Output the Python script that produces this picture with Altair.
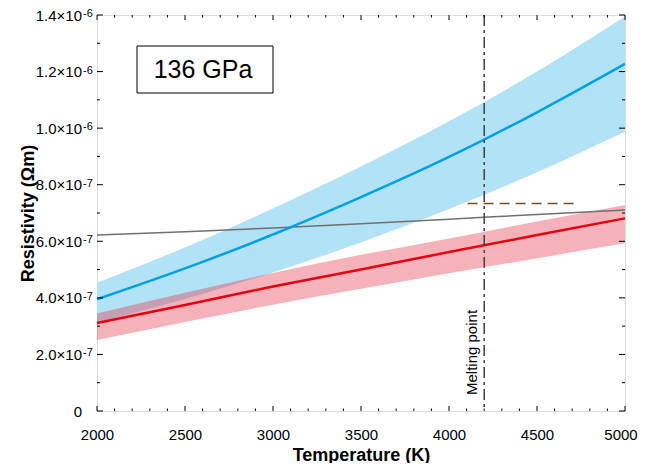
import altair as alt
import pandas as pd

# ---- data (resistivity in units of 1e-6 Ohm m) ----
temperature = [2000, 2500, 3000, 3500, 4000, 4500, 5000]
blue_mid = [0.395, 0.504, 0.624, 0.756, 0.898, 1.056, 1.227]
blue_hi = [0.453, 0.578, 0.716, 0.864, 1.024, 1.200, 1.395]
blue_lo = [0.313, 0.396, 0.490, 0.596, 0.714, 0.844, 0.987]
red_mid = [0.311, 0.375, 0.440, 0.500, 0.562, 0.622, 0.681]
red_hi = [0.345, 0.418, 0.488, 0.552, 0.610, 0.670, 0.728]
red_lo = [0.251, 0.315, 0.376, 0.432, 0.487, 0.540, 0.593]
grey_line = [0.622, 0.634, 0.647, 0.662, 0.678, 0.695, 0.711]

melting_point = [4200]
melting_label = ["Melting point"]
dashed_x = [4106]
dashed_x2 = [4735]
dashed_y = [0.734]
pressure_label = ["136 GPa"]

x_major = [2000, 2500, 3000, 3500, 4000, 4500, 5000]
y_major = [0, 0.2, 0.4, 0.6, 0.8, 1.0, 1.2, 1.4]
y_mantissa = ["0", "2.0×10", "4.0×10", "6.0×10", "8.0×10", "1.0×10", "1.2×10", "1.4×10"]
y_exponent = ["", "-7", "-7", "-7", "-7", "-6", "-6", "-6"]
x_minor = [t for t in range(2000, 5001, 100) if t not in x_major]
y_minor = [0.1, 0.3, 0.5, 0.7, 0.9, 1.1, 1.3]

# ---- tables ----
df = pd.DataFrame({
    "T": temperature, "blue_mid": blue_mid, "blue_hi": blue_hi, "blue_lo": blue_lo,
    "red_mid": red_mid, "red_hi": red_hi, "red_lo": red_lo, "grey": grey_line,
})
melt_df = pd.DataFrame({"T": melting_point, "label": melting_label})
dash_df = pd.DataFrame({"x": dashed_x, "x2": dashed_x2, "y": dashed_y})
box_df = pd.DataFrame({"label": pressure_label})
xmaj_df = pd.DataFrame({"v": x_major})
xmin_df = pd.DataFrame({"v": x_minor})
ymaj_df = pd.DataFrame({"v": y_major, "mant": y_mantissa, "exp": y_exponent})
ymin_df = pd.DataFrame({"v": y_minor})

W, H = 528, 396
FONT = "Liberation Sans"

x_scale = alt.Scale(domain=[2000, 5000], nice=False, zero=False)
y_scale = alt.Scale(domain=[0, 1.4], nice=False, zero=False)

x_axis = alt.Axis(
    values=x_major, title="Temperature (K)", ticks=False, domain=False, grid=False,
    labelFont=FONT, labelFontSize=15, labelColor="black", labelPadding=16.5,
    labelFlush=False, labelOverlap=False, format="d",
    labelOffset={"condition": {"test": "datum.value >= 5000", "value": -4.5}, "value": 0},
    titleFont=FONT, titleFontSize=18, titleFontWeight="bold", titleColor="black",
    titleX=W / 2, titleY=49, titleBaseline="alphabetic", titleAlign="center",
)
y_axis = alt.Axis(
    values=y_major, title="Resistivity (Ωm)", ticks=False, domain=False, grid=False,
    labels=False,
    titleFont=FONT, titleFontSize=18, titleFontWeight="bold", titleColor="black",
    titleAngle=270, titleX=-63.5, titleY=H / 2, titleAlign="center",
    titleBaseline="alphabetic",
)

X = lambda f: alt.X(f, type="quantitative", scale=x_scale, axis=x_axis)
Y = lambda f: alt.Y(f, type="quantitative", scale=y_scale, axis=y_axis)

base = alt.Chart(df)

blue_band = base.mark_area(color="#B2E2F6", interpolate="monotone").encode(
    x=X("T"), y=Y("blue_lo"), y2="blue_hi")
red_band = base.mark_area(color="#E5354A", opacity=0.38, interpolate="monotone").encode(
    x=X("T"), y=Y("red_lo"), y2="red_hi")
grey = base.mark_line(color="#707070", strokeWidth=1.5, interpolate="monotone").encode(
    x=X("T"), y=Y("grey"))
blue = base.mark_line(color="#00A0E6", strokeWidth=2.5, interpolate="monotone").encode(
    x=X("T"), y=Y("blue_mid"))
red = base.mark_line(color="#E60012", strokeWidth=2.5, interpolate="monotone").encode(
    x=X("T"), y=Y("red_mid"))

brown = alt.Chart(dash_df).mark_rule(
    color="#7A4A17", strokeWidth=1.5, strokeDash=[10, 6]).encode(
    x=X("x"), x2="x2", y=Y("y"))

melt_line = alt.Chart(melt_df).mark_rule(
    color="#404040", strokeWidth=1.5, strokeDash=[11, 4, 3, 4]).encode(x=X("T"))
melt_text = alt.Chart(melt_df).mark_text(
    angle=270, align="left", baseline="alphabetic", font=FONT, fontSize=15,
    color="black", dy=-7).encode(x=X("T"), y=alt.value(380), text="label:N")

box = alt.Chart(box_df).mark_rect(fill="white", stroke="black", strokeWidth=1).encode(
    x=alt.value(40), x2=alt.value(176), y=alt.value(31), y2=alt.value(78))
box_text = alt.Chart(box_df).mark_text(
    font=FONT, fontSize=25, color="black", align="center", baseline="middle").encode(
    x=alt.value(106), y=alt.value(55), text="label:N")

# y tick labels: mantissa + superscript exponent
ylab_main = alt.Chart(ymaj_df).mark_text(
    font=FONT, fontSize=15, color="black", align="right", baseline="middle",
    dy=0.5).encode(y=Y("v"), x=alt.value(-15), text="mant:N")
ylab_exp = alt.Chart(ymaj_df).mark_text(
    font=FONT, fontSize=11, color="black", align="left", baseline="middle",
    dy=-1).encode(y=Y("v"), x=alt.value(-14), text="exp:N")


def xticks(d, length):
    bottom = alt.Chart(d).mark_rule(color="black", strokeWidth=1).encode(
        x=X("v"), y=alt.value(H), y2=alt.value(H - length))
    top = alt.Chart(d).mark_rule(color="black", strokeWidth=1).encode(
        x=X("v"), y=alt.value(0), y2=alt.value(length))
    return [bottom, top]


def yticks(d, length):
    left = alt.Chart(d).mark_rule(color="black", strokeWidth=1).encode(
        y=Y("v"), x=alt.value(0), x2=alt.value(length))
    right = alt.Chart(d).mark_rule(color="black", strokeWidth=1).encode(
        y=Y("v"), x=alt.value(W), x2=alt.value(W - length))
    return [left, right]


ticks = xticks(xmaj_df, 5) + xticks(xmin_df, 2.5) + yticks(ymaj_df, 6) + yticks(ymin_df, 3)

chart = alt.layer(
    blue_band, red_band, grey, blue, red, brown, melt_line, melt_text,
    box, box_text, ylab_main, ylab_exp, *ticks
).properties(
    width=W, height=H,
    autosize=alt.AutoSizeParams(type="none"),
    padding={"left": 89, "top": 7, "right": 13, "bottom": 52},
).configure_view(stroke="black", strokeWidth=1.5).configure(background="white")

chart.save("out.html", embed_options={"renderer": "svg", "actions": False})
